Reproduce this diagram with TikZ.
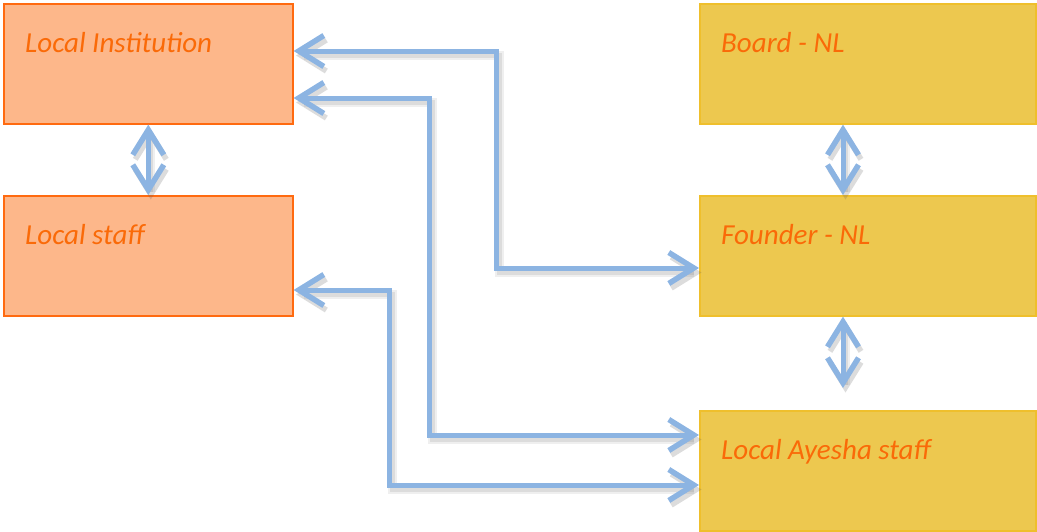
\documentclass[tikz,border=0pt]{standalone}
\usepackage{fontspec}
\setmainfont{Carlito}
\usetikzlibrary{arrows.meta,calc}
\definecolor{ofill}{HTML}{FDB78A}
\definecolor{oline}{HTML}{FF6A10}
\definecolor{yfill}{HTML}{EDC84F}
\definecolor{yline}{HTML}{EFBF2C}
\definecolor{txt}{HTML}{FA6A08}
\definecolor{conncol}{HTML}{8CB4E2}
\tikzset{
  obox/.style={draw=oline, fill=ofill, line width=1.6pt, minimum width=289pt, minimum height=120pt, anchor=north west, inner sep=0pt},
  ybox/.style={draw=yline, fill=yfill, line width=1.6pt, minimum width=336pt, minimum height=120pt, anchor=north west, inner sep=0pt},
  lbl/.style={text=txt, font=\fontsize{29}{35}\selectfont\itshape, anchor=base west, inner sep=0pt},
  conn/.style={draw=conncol, line width=5pt, line join=miter,
    {Straight Barb[length=25pt,width=31pt,line width=5.5pt]}-{Straight Barb[length=25pt,width=31pt,line width=5.5pt]},
    preaction={draw=black!60, opacity=0.10, line width=9pt, transform canvas={shift={(2.5pt,-4.5pt)}}},
    preaction={draw=black!60, opacity=0.14, line width=5pt, transform canvas={shift={(2.5pt,-4.5pt)}}}}
}
\begin{document}
\begin{tikzpicture}[x=1pt,y=-1pt]
\useasboundingbox (0,0) rectangle (1037,531);
\node[obox] (li) at (3,3) {};
\node[obox] (ls) at (3,195) {};
\node[ybox] (bd) at (699,3) {};
\node[ybox] (fd) at (699,195) {};
\node[ybox] (ay) at (699,410) {};
\node[lbl] (tli) at ($(li.north west)+(22,49)$) {Local Institution};
\node[lbl] (tls) at ($(ls.north west)+(22,49)$) {Local staff};
\node[lbl] (tbd) at ($(bd.north west)+(22,49)$) {Board - NL};
\node[lbl] (tfd) at ($(fd.north west)+(22,49)$) {Founder - NL};
\node[lbl] (tay) at ($(ay.north west)+(22,49)$) {Local Ayesha staff};
\draw[conn] (li.south) -- (ls.north);
\draw[conn] ([xshift=144pt]bd.south west) -- ([xshift=144pt]fd.north west);
\draw[conn] ([xshift=144pt]fd.south west) -- ([xshift=144pt,yshift=22pt]ay.north west);
\draw[conn] ([yshift=-48pt]li.north east) -- ++(203pt,0) |- ([yshift=-73pt]fd.north west);
\draw[conn] ([yshift=-95pt]li.north east) -- ++(136pt,0) |- ([yshift=-25pt]ay.north west);
\draw[conn] ([yshift=-95pt]ls.north east) -- ++(96pt,0) |- ([yshift=-75pt]ay.north west);
\end{tikzpicture}
\end{document}
